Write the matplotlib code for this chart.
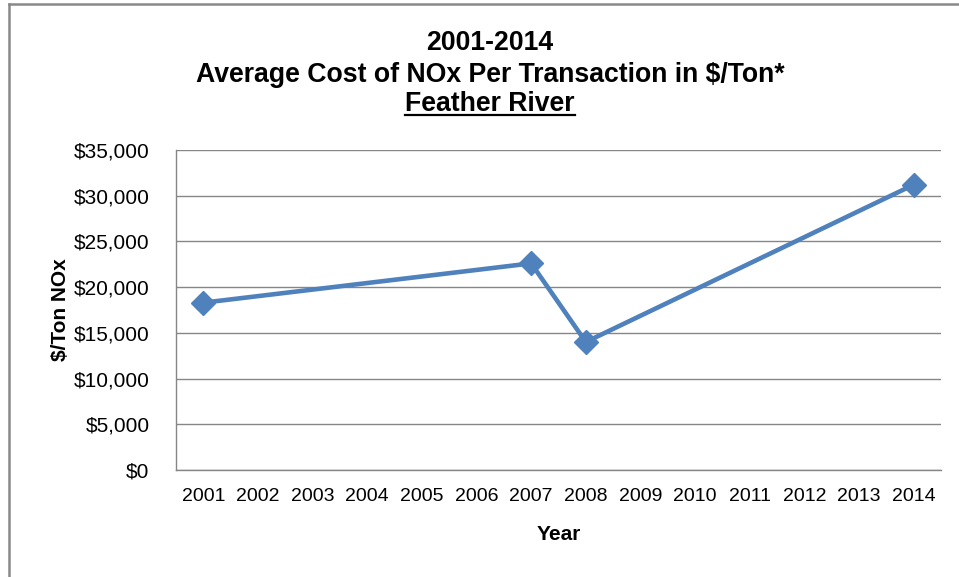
import matplotlib
matplotlib.use("Agg")
import matplotlib.pyplot as plt
from matplotlib.lines import Line2D
from matplotlib.ticker import FuncFormatter

plt.rcParams['font.family'] = ['Liberation Sans', 'DejaVu Sans']

years = [str(y) for y in range(2001, 2015)]
point_years = ['2001', '2007', '2008', '2014']
costs = [18300, 22600, 14000, 31200]
y_ticks = [0, 5000, 10000, 15000, 20000, 25000, 30000, 35000]

W, H = 959, 577
fig = plt.figure(figsize=(W / 100, H / 100), dpi=100)
ax = fig.add_axes([176 / W, 1 - 470 / H, (941 - 176) / W, (470 - 150) / H])

xpos = [years.index(y) for y in point_years]
ax.plot(xpos, costs, color='#4F81BD', lw=3.3, marker='D', markersize=12.5,
        markerfacecolor='#4F81BD', markeredgecolor='#4F81BD', solid_joinstyle='miter', zorder=3)

ax.set_xlim(-0.5, len(years) - 0.5)
ax.set_ylim(0, 35000)
ax.set_xticks(range(len(years)))
ax.set_xticklabels(years)
ax.set_yticks(y_ticks)
ax.yaxis.set_major_formatter(FuncFormatter(lambda v, p: f"${int(v):,}"))
ax.tick_params(axis='both', length=0, colors='#000000')
ax.tick_params(axis='y', pad=19, labelsize=15)
ax.tick_params(axis='x', pad=13, labelsize=14)
ax.grid(axis='y', color='#868686', lw=1.0)
ax.set_axisbelow(True)
for s in ['top', 'right']:
    ax.spines[s].set_visible(False)
for s in ['left', 'bottom']:
    ax.spines[s].set_color('#868686')
    ax.spines[s].set_linewidth(1.0)

ax.set_xlabel('Year', fontsize=15, fontweight='bold', labelpad=14)
ax.set_ylabel('$/Ton NOx', fontsize=15, fontweight='bold', labelpad=3)

cx = 490 / W
fs = 19.2
fig.text(cx, 1 - 42.5 / H, '2001-2014', ha='center', va='center', fontsize=fs, fontweight='bold')
fig.text(cx, 1 - 75 / H, 'Average Cost of NOx Per Transaction in $/Ton*', ha='center', va='center',
         fontsize=fs, fontweight='bold')
t3 = fig.text(cx, 1 - 104 / H, 'Feather River', ha='center', va='center', fontsize=fs, fontweight='bold')

fig.canvas.draw()
r = fig.canvas.get_renderer()
bb = t3.get_window_extent(r)
yline = (bb.y0 + 2) / H
fig.add_artist(Line2D([bb.x0 / W, bb.x1 / W], [yline, yline], transform=fig.transFigure,
                      color='black', lw=1.6))

# chart border
fig.add_artist(Line2D([8.5 / W, 8.5 / W], [0, 1 - 3.5 / H], transform=fig.transFigure, color='#898989', lw=1.8))
fig.add_artist(Line2D([8.5 / W, 1], [1 - 3.5 / H, 1 - 3.5 / H], transform=fig.transFigure, color='#898989', lw=1.8))

fig.savefig('out.png', dpi=100)
